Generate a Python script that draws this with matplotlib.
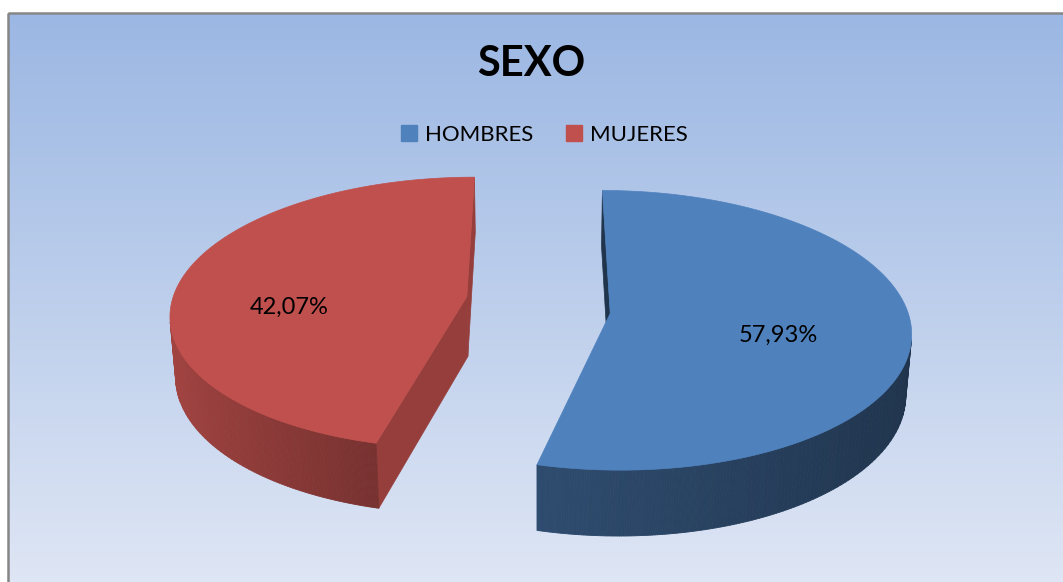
import numpy as np
import matplotlib.pyplot as plt
from matplotlib.patches import Polygon, Patch, Rectangle
from matplotlib.collections import PolyCollection
from matplotlib.colors import to_rgb

labels = ['HOMBRES', 'MUJERES']
values = [57.93, 42.07]
colors = ['#4F81BD', '#C0504D']

# side shading (dark end, light end) and flat radial face shade per slice
side_shade = [(0.40, 0.70), (0.24, 0.85)]
face_shade = [0.40, 0.78]
label_off = [(-10, 1), (-11, 30)]

# simple pinhole camera looking down on the pie
PHI = np.radians(28.9)
DIST = 7.38
FOCAL = 2150
X0, Y0 = 538, 365
HEIGHT = 0.232
EXPLODE = 0.25
SQUASH = 2.15   # excel draws the wedge angles squashed toward the vertical axis
CAM = np.array([0.0, -DIST * np.cos(PHI), DIST * np.sin(PHI)])


def project(x, y, z):
    yc = y * np.sin(PHI) + z * np.cos(PHI)
    dc = DIST + y * np.cos(PHI) - z * np.sin(PHI)
    return X0 + FOCAL * x / dc, Y0 - FOCAL * yc / dc


def warp(th):
    t = np.radians(th)
    return np.arctan2(np.sin(t), SQUASH * np.cos(t))


def rim(cx, cy, th, z):
    t = warp(th)
    return project(cx + np.sin(t), cy + np.cos(t), z)


def shade(col, f):
    return tuple(np.clip(np.array(to_rgb(col)) * f, 0, 1))


fig = plt.figure(figsize=(10.63, 5.82), dpi=100)
ax = fig.add_axes([0, 0, 1, 1])
ax.set_xlim(0, 1063)
ax.set_ylim(582, 0)
ax.axis('off')

# background gradient + border
grad = np.linspace(0, 1, 256)[:, None]
top_c = np.array([155, 183, 227]) / 255
bot_c = np.array([224, 231, 245]) / 255
img = top_c[None, None, :] * (1 - grad[:, :, None]) + bot_c[None, None, :] * grad[:, :, None]
ax.imshow(img, extent=(8, 1075, 595, 13), aspect='auto', zorder=0)
ax.add_patch(Rectangle((8, 13), 1067, 582, fill=False, edgecolor='#868686', lw=1.8, zorder=1))

start = 0.0
for i, v in enumerate(values):
    t0 = start
    t1 = start + 360 * v / sum(values)
    start = t1
    mid = np.radians((t0 + t1) / 2)
    cx, cy = EXPLODE * np.sin(mid), EXPLODE * np.cos(mid)
    col = colors[i]

    # radial faces
    for th, sgn in ((t0, -1), (t1, 1)):
        tr = warp(th)
        nr = tr + sgn * np.pi / 2
        p = np.array([cx + 0.5 * np.sin(tr), cy + 0.5 * np.cos(tr), HEIGHT / 2])
        n = np.array([np.sin(nr), np.cos(nr), 0])
        if np.dot(CAM - p, n) > 0:
            pts = [project(cx, cy, HEIGHT), rim(cx, cy, th, HEIGHT),
                   rim(cx, cy, th, 0), project(cx, cy, 0)]
            ax.add_patch(Polygon(pts, closed=True, fc=shade(col, face_shade[i]),
                                 ec=shade(col, face_shade[i]), lw=0.5, zorder=2))

    # curved outer side
    ths = np.linspace(t0, t1, 240)
    quads, qcols = [], []
    lo, hi = side_shade[i]
    for a, b in zip(ths[:-1], ths[1:]):
        m = warp((a + b) / 2)
        p = np.array([cx + np.sin(m), cy + np.cos(m), HEIGHT / 2])
        n = np.array([np.sin(m), np.cos(m), 0])
        if np.dot(CAM - p, n) <= 0:
            continue
        quads.append([rim(cx, cy, a, HEIGHT), rim(cx, cy, b, HEIGHT),
                      rim(cx, cy, b, 0), rim(cx, cy, a, 0)])
        qcols.append(shade(col, lo + (hi - lo) * (1 - np.sin(m)) / 2))
    ax.add_collection(PolyCollection(quads, facecolors=qcols, edgecolors=qcols,
                                     linewidths=0.6, zorder=3))

    # top face
    top = [project(cx, cy, HEIGHT)] + [rim(cx, cy, th, HEIGHT) for th in ths]
    ax.add_patch(Polygon(top, closed=True, fc=col, ec=col, lw=0.5, zorder=4))

    lx, ly = project(cx + 0.6 * np.sin(mid), cy + 0.6 * np.cos(mid), HEIGHT)
    ax.text(lx + label_off[i][0], ly + label_off[i][1],
            f'{v:.2f}'.replace('.', ',') + '%',
            ha='center', va='center', fontsize=17, family='Lato', zorder=5)

ax.text(531, 64, 'SEXO', ha='center', va='center', fontsize=30,
        fontweight='bold', family='Lato', zorder=5)

handles = [Patch(facecolor=c, edgecolor=c) for c in colors]
ax.legend(handles, labels, loc='center', bbox_to_anchor=(0.512, 1 - 135 / 582),
          ncol=2, frameon=False, handlelength=0.7, handleheight=0.7,
          handletextpad=0.35, columnspacing=1.5,
          prop={'family': 'Lato', 'size': 16})

fig.savefig('out.png', dpi=100)
